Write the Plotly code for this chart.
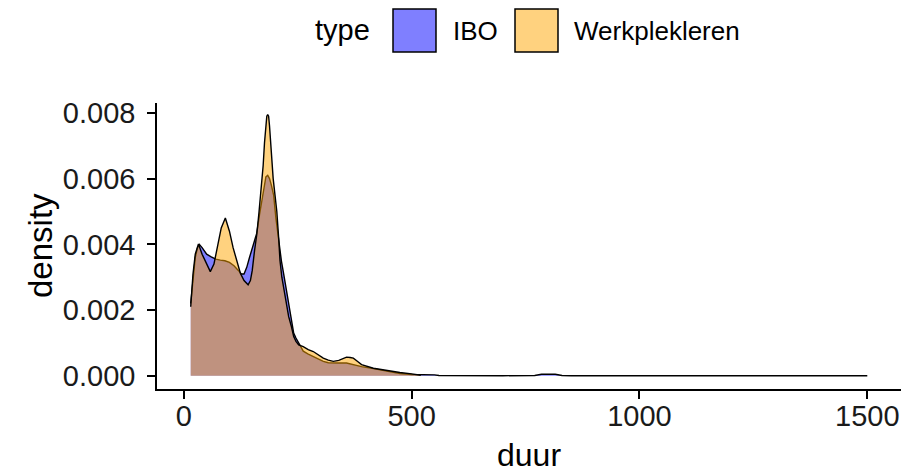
import plotly.graph_objects as go

# density estimates
ibo_x = [15, 20, 25, 30, 34, 40, 50, 60, 70, 80, 90, 100, 110, 120, 126, 132, 138,
         144, 150, 156, 160, 166, 171, 176, 180, 184, 188, 192, 197, 202, 208, 214,
         219, 225, 230, 236, 241, 246, 252, 262, 273, 284, 295, 306, 317, 328, 340,
         357, 372, 390, 416, 445, 474, 500, 515, 530, 550, 560, 600, 700, 770, 785,
         800, 815, 830, 850, 1000, 1200, 1500]
ibo_y = [0.0022, 0.0030, 0.0036, 0.0039, 0.0040, 0.0039, 0.0037, 0.00362, 0.00355,
         0.00352, 0.0035, 0.00345, 0.00335, 0.0032, 0.0031, 0.0031, 0.0033, 0.0036,
         0.0039, 0.0042, 0.00434, 0.0049, 0.00535, 0.0058, 0.00605, 0.0061, 0.006,
         0.0058, 0.0055, 0.0048, 0.0041, 0.0035, 0.0031, 0.0026, 0.0021, 0.0017,
         0.0013, 0.00115, 0.001, 0.00075, 0.00066, 0.00059, 0.0005, 0.00044, 0.0004,
         0.00039, 0.00039, 0.00039, 0.00033, 0.00028, 0.00022, 0.00014, 0.00007,
         0.00004, 0.00004, 0.00004, 0.00003, 0.00001, 0.000005, 0.000004, 0.00001,
         0.00005, 0.00005, 0.00005, 0.00001, 0.000005, 0.000003, 0.000002, 0.000002]

werk_x = [15, 20, 25, 32, 40, 50, 58, 66, 74, 82, 91, 100, 108, 116, 124, 132, 141,
          146, 150, 155, 160, 165, 170, 174, 177, 180, 182, 184, 186, 188, 190, 192,
          196, 200, 204, 208, 211, 215, 219, 225, 230, 236, 241, 246, 252, 262, 273,
          284, 295, 306, 317, 328, 340, 350, 357, 365, 372, 380, 390, 416, 445, 474,
          500, 520]
werk_y = [0.0021, 0.0031, 0.0037, 0.00401, 0.0037, 0.0034, 0.00317, 0.0034, 0.0039,
          0.0045, 0.0048, 0.0044, 0.0039, 0.0035, 0.00312, 0.0029, 0.00277, 0.0029,
          0.0032, 0.0038, 0.0043, 0.0050, 0.0057, 0.0064, 0.0071, 0.0076, 0.0079,
          0.00795, 0.0079, 0.0076, 0.0071, 0.0067, 0.0060, 0.0055, 0.0050, 0.0042,
          0.0035, 0.0030, 0.0027, 0.0022, 0.0018, 0.0015, 0.0012, 0.00105, 0.00094,
          0.00089, 0.0008, 0.00074, 0.00063, 0.00054, 0.00048, 0.00044, 0.00047,
          0.00054, 0.00057, 0.00056, 0.00054, 0.00045, 0.00034, 0.00023, 0.00016,
          0.0001, 0.00006, 0.00002]

types = ["IBO", "Werkplekleren"]
fills = ["rgba(0,0,255,0.5)", "rgba(255,165,0,0.5)"]

W, H = 919, 476
OFF = 8  # page body margin
L, R, T, B = 149, 26, 95, 95
PW, PH = W - L - R, H - T - B

fig = go.Figure()
for name, xs, ys, fc in zip(types, [ibo_x, werk_x], [ibo_y, werk_y], fills):
    fig.add_trace(go.Scatter(
        x=xs, y=ys, name=name, mode="lines", fill="tozeroy", fillcolor=fc,
        line=dict(color="black", width=1.4), showlegend=False, hoverinfo="x+y"
    ))


# screen pixel -> paper coords
def px_x(p):
    return (p - OFF - L) / PW


def px_y(p):
    return (H - B - (p - OFF)) / PH


# hand-built legend (ggplot style keys)
shapes = []
annotations = [dict(text="type", x=px_x(372), y=px_y(30), xref="paper", yref="paper",
                    xanchor="right", yanchor="middle", showarrow=False,
                    font=dict(size=29, color="black"))]
key_left = [393, 515]
label_left = [451, 572]
for name, fc, kx, lx in zip(types, fills, key_left, label_left):
    shapes.append(dict(type="rect", xref="paper", yref="paper",
                       x0=px_x(kx), x1=px_x(kx + 43), y0=px_y(52), y1=px_y(9),
                       fillcolor=fc, line=dict(color="black", width=1.5)))
    annotations.append(dict(text=name, x=px_x(lx), y=px_y(31), xref="paper",
                            yref="paper", xanchor="left", yanchor="middle",
                            showarrow=False, font=dict(size=26, color="black")))

# axis titles
annotations.append(dict(text="duur", x=0.5, y=px_y(455), xref="paper", yref="paper",
                        xanchor="center", yanchor="middle", showarrow=False,
                        font=dict(size=32, color="black")))
annotations.append(dict(text="density", x=px_x(40), y=0.5, xref="paper", yref="paper",
                        xanchor="center", yanchor="middle", showarrow=False,
                        textangle=-90, font=dict(size=33, color="black")))

axis_style = dict(showline=True, linecolor="black", linewidth=1.5, ticks="outside",
                  ticklen=8, tickwidth=1.5, tickcolor="black", showgrid=False,
                  zeroline=False, tickfont=dict(size=29, color="#1a1a1a"))

fig.update_layout(
    width=W, height=H,
    margin=dict(l=L, r=R, t=T, b=B),
    paper_bgcolor="white", plot_bgcolor="white",
    font=dict(family="Liberation Sans, Arial, sans-serif"),
    shapes=shapes, annotations=annotations,
    xaxis=dict(range=[-59, 1574], tickvals=[0, 500, 1000, 1500],
               ticklabelstandoff=-8, **axis_style),
    yaxis=dict(range=[-0.0004, 0.0083], tickvals=[0, 0.002, 0.004, 0.006, 0.008],
               tickformat=".3f", ticklabelstandoff=6, **axis_style),
)

fig.write_html("out.html")
